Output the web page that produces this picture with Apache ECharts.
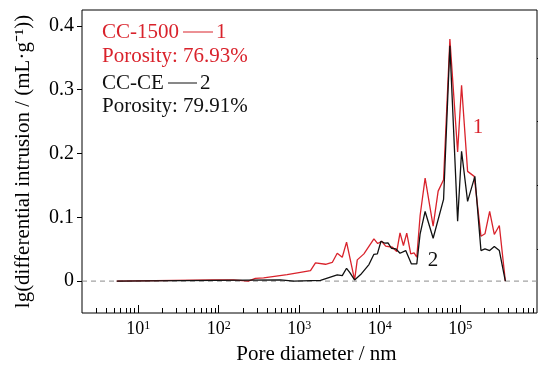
<!DOCTYPE html>
<html><head><meta charset="utf-8">
<script src="https://cdn.jsdelivr.net/npm/echarts@6/dist/echarts.min.js"></script>
<style>html,body{margin:0;padding:0;background:#fff}#c{width:538px;height:370px}</style>
</head><body><div id="c"></div>
<script>
// Pore diameter (nm) and lg(differential intrusion) (mL/g)
const redX = [5.4, 85, 153, 233, 285, 361, 707, 1035, 1380, 1592, 2123, 2572, 2966, 3425, 3873, 4875, 5262, 6362, 8472, 9440, 10570, 11860, 14380, 16270, 17880, 19710, 21670, 24300, 26730, 28890, 31780, 36670, 46110, 53220, 62120, 74450, 92890, 104000, 123600, 149400, 181100, 203100, 232300, 265300, 306300, 363900];
const redY = [0, 0.002, 0.002, 0.0, 0.0044, 0.005, 0.0102, 0.0138, 0.0165, 0.0286, 0.0264, 0.0292, 0.0437, 0.0374, 0.061, 0.002, 0.0333, 0.0427, 0.0663, 0.0589, 0.0625, 0.0547, 0.0531, 0.0463, 0.0757, 0.0558, 0.0751, 0.0427, 0.0443, 0.0374, 0.1029, 0.1615, 0.0861, 0.1411, 0.159, 0.3794, 0.2024, 0.3071, 0.172, 0.1642, 0.0704, 0.0742, 0.1092, 0.0731, 0.0872, 0];
const blackX = [5.4, 583, 853, 1837, 2966, 3425, 3873, 4236, 4875, 5796, 7350, 8472, 9350, 10370, 11640, 12680, 13970, 15810, 17880, 21040, 24780, 28890, 31780, 36670, 46110, 62120, 74450, 92890, 104000, 123600, 152200, 181100, 203100, 232300, 265300, 306300, 363900];
const blackY = [0, 0.002, 0, 0.001, 0.0097, 0.0086, 0.0201, 0.0138, 0.0019, 0.0102, 0.0259, 0.042, 0.0427, 0.0625, 0.0594, 0.06, 0.0515, 0.0506, 0.0437, 0.0479, 0.027, 0.027, 0.0742, 0.1092, 0.0672, 0.128, 0.3689, 0.094, 0.2035, 0.1249, 0.1642, 0.0479, 0.0506, 0.0479, 0.0542, 0.0479, 0];

const X_MIN = 2, X_MAX = 9e5;
const Y_MIN = -0.05, Y_MAX = 0.425;
const xMajorExp = [1, 2, 3, 4, 5];            // tick labels 10^1 ... 10^5
const yMajorTicks = [0, 0.1, 0.2, 0.3, 0.4];
const yMinorTicks = [0.05, 0.15, 0.25, 0.35];
const xMinorLog = [];
for (let d = 0; d <= 5; d++) for (let k = 2; k <= 9; k++) {
  const v = k * Math.pow(10, d);
  if (v > X_MIN && v < X_MAX) xMinorLog.push(Math.log10(v));
}
const legendLines = ['CC-1500', 'Porosity: 76.93%', 'CC-CE', 'Porosity: 79.91%'];

const RED = '#d9222b', BLK = '#111111';
const FF = '"Liberation Serif","Times New Roman",serif';
const zip = (a, b) => a.map((v, i) => [v, b[i]]);

const chart = echarts.init(document.getElementById('c'));
const lx0 = Math.log10(X_MIN), lx1 = Math.log10(X_MAX);
chart.setOption({
  animation: false,
  grid: {left: 82, right: 1, top: 10, bottom: 57, show: true, borderColor: '#000', borderWidth: 1, backgroundColor: 'transparent'},
  xAxis: [
    {type: 'log', logBase: 10, min: X_MIN, max: X_MAX, axisLine: {show: false, onZero: false}, axisTick: {show: false}, axisLabel: {show: false}, splitLine: {show: false}},
    {type: 'value', min: lx0, max: lx1, position: 'bottom',
     axisLine: {show: false, onZero: false}, splitLine: {show: false},
     axisTick: {show: true, inside: true, length: 8, lineStyle: {color: '#000', width: 1}, customValues: xMajorExp},
     axisLabel: {show: true, margin: 7, customValues: xMajorExp, color: '#000', fontFamily: FF, fontSize: 18,
       formatter: v => '10{s|' + Math.round(v) + '}',
       rich: {s: {fontFamily: FF, fontSize: 12, verticalAlign: 'top', lineHeight: 12, color: '#000'}}},
     name: 'Pore diameter / nm', nameLocation: 'middle', nameGap: 31,
     nameTextStyle: {fontFamily: FF, fontSize: 21, color: '#000', padding: [0, 0, 0, 14]}},
    {type: 'value', min: lx0, max: lx1, position: 'bottom',
     axisLine: {show: false, onZero: false}, splitLine: {show: false}, axisLabel: {show: false},
     axisTick: {show: true, inside: true, length: 5, lineStyle: {color: '#000', width: 1}, customValues: xMinorLog}}
  ],
  yAxis: [
    {type: 'value', min: Y_MIN, max: Y_MAX, axisLine: {show: false, onZero: false}, splitLine: {show: false},
     axisTick: {show: true, inside: false, length: 5, lineStyle: {color: '#000', width: 1}, customValues: yMajorTicks},
     axisLabel: {show: true, margin: 8, customValues: yMajorTicks, color: '#000', fontFamily: FF, fontSize: 20,
       formatter: v => (Math.abs(v) < 1e-9 ? '0' : String(Math.round(v * 10) / 10))},
     name: 'lg(differential intrusion / (mL\u00b7g\u207b\u00b9))', nameLocation: 'middle', nameRotate: 90, nameGap: 48,
     nameTextStyle: {fontFamily: FF, fontSize: 21, color: '#000'}},
    {type: 'value', min: Y_MIN, max: Y_MAX, axisLine: {show: false, onZero: false}, splitLine: {show: false}, axisLabel: {show: false},
     axisTick: {show: true, inside: false, length: 3, lineStyle: {color: '#000', width: 1}, customValues: yMinorTicks}}
  ],
  series: [
    {type: 'line', name: 'zero', xAxisIndex: 0, yAxisIndex: 0, data: [[X_MIN, 0], [X_MAX, 0]], symbol: 'none', silent: true,
     lineStyle: {color: '#8c8c8c', width: 1, type: [5, 4]}, z: 1},
    {type: 'line', name: 'CC-1500', xAxisIndex: 0, yAxisIndex: 0, data: zip(redX, redY), symbol: 'none',
     lineStyle: {color: RED, width: 1.3}, z: 2},
    {type: 'line', name: 'CC-CE', xAxisIndex: 0, yAxisIndex: 0, data: zip(blackX, blackY), symbol: 'none',
     lineStyle: {color: BLK, width: 1.3}, z: 3}
  ],
  graphic: [
    {type: 'text', x: 102, y: 32, style: {text: legendLines[0], fill: RED, font: '21px ' + FF, textAlign: 'left', textVerticalAlign: 'middle'}},
    {type: 'line', shape: {x1: 183, y1: 32, x2: 213, y2: 32}, style: {stroke: RED, lineWidth: 1}},
    {type: 'text', x: 216, y: 32, style: {text: '1', fill: RED, font: '21px ' + FF, textAlign: 'left', textVerticalAlign: 'middle'}},
    {type: 'text', x: 102, y: 56, style: {text: legendLines[1], fill: RED, font: '21px ' + FF, textAlign: 'left', textVerticalAlign: 'middle'}},
    {type: 'text', x: 102, y: 83, style: {text: legendLines[2], fill: BLK, font: '21px ' + FF, textAlign: 'left', textVerticalAlign: 'middle'}},
    {type: 'line', shape: {x1: 168, y1: 83, x2: 197, y2: 83}, style: {stroke: BLK, lineWidth: 1}},
    {type: 'text', x: 200, y: 83, style: {text: '2', fill: BLK, font: '21px ' + FF, textAlign: 'left', textVerticalAlign: 'middle'}},
    {type: 'text', x: 102, y: 106, style: {text: legendLines[3], fill: BLK, font: '21px ' + FF, textAlign: 'left', textVerticalAlign: 'middle'}},
    {type: 'text', x: 478, y: 127, style: {text: '1', fill: RED, font: '21px ' + FF, textAlign: 'center', textVerticalAlign: 'middle'}},
    {type: 'text', x: 433, y: 260, style: {text: '2', fill: BLK, font: '21px ' + FF, textAlign: 'center', textVerticalAlign: 'middle'}}
  ]
});
</script></body></html>
